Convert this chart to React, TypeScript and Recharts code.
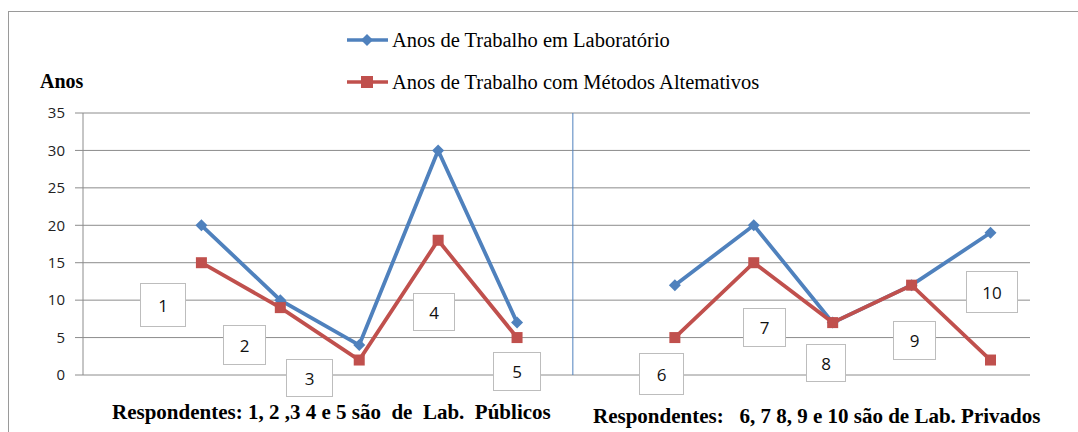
import { LineChart, Line, XAxis, YAxis, CartesianGrid, ReferenceLine } from "recharts";

const categories = ["", "1", "2", "3", "4", "5", "", "6", "7", "8", "9", "10"];
const anosLaboratorio = [null, 20, 10, 4, 30, 7, null, 12, 20, 7, 12, 19];
const anosAlternativos = [null, 15, 9, 2, 18, 5, null, 5, 15, 7, 12, 2];
const yTicks = [0, 5, 10, 15, 20, 25, 30, 35];
const respondentLabels = ["1", "2", "3", "4", "5", "6", "7", "8", "9", "10"];
const seriesNames = ["Anos de Trabalho em Laboratório", "Anos de Trabalho com Métodos Altemativos"];

const BLUE = "#4F81BD";
const RED = "#C0504D";
const GRID = "#8c8c8c";
const SERIF = "'Liberation Serif', 'Times New Roman', serif";

const data = categories.map((name, i) => ({
  name,
  lab: anosLaboratorio[i],
  alt: anosAlternativos[i],
}));

// hand-placed label boxes (left, top, width, height)
const boxes = [
  [140, 283, 46, 44],
  [223, 325, 43, 40],
  [286, 359, 47, 38],
  [413, 293, 42, 38],
  [493, 352, 48, 39],
  [639, 353, 45, 42],
  [743, 308, 43, 39],
  [806, 344, 40, 38],
  [893, 321, 43, 39],
  [966, 271, 52, 42],
];

const Diamond = (props: any) => {
  const { cx, cy } = props;
  if (cx == null || cy == null) return null;
  const r = 6;
  return (
    <polygon
      points={`${cx},${cy - r} ${cx + r},${cy} ${cx},${cy + r} ${cx - r},${cy}`}
      fill={BLUE}
    />
  );
};

const Square = (props: any) => {
  const { cx, cy } = props;
  if (cx == null || cy == null) return null;
  return <rect x={cx - 5.5} y={cy - 5.5} width={11} height={11} fill={RED} />;
};

const LegendBlock = () => (
  <div
    style={{
      position: "absolute",
      left: 347,
      top: 19,
      fontFamily: SERIF,
      fontSize: 20.5,
      color: "#000",
    }}
  >
    {seriesNames.map((label, i) => (
      <div key={i} style={{ display: "flex", alignItems: "center", height: 42 }}>
        <svg width={45} height={14}>
          <line x1={0} y1={7} x2={41} y2={7} stroke={i === 0 ? BLUE : RED} strokeWidth={3.5} />
          {i === 0 ? (
            <polygon points="20,1 26,7 20,13 14,7" fill={BLUE} />
          ) : (
            <rect x={14} y={1} width={12} height={12} fill={RED} />
          )}
        </svg>
        <span>{label}</span>
      </div>
    ))}
  </div>
);

export default function App() {
  return (
    <div style={{ position: "absolute", left: 0, top: 0, width: 1078, height: 432, background: "#fff", overflow: "hidden" }}>
      <div
        style={{
          position: "absolute",
          left: 8,
          top: 11,
          width: 1200,
          height: 600,
          borderTop: "1px solid #9a9a9a",
          borderLeft: "1px solid #9a9a9a",
        }}
      />
      <LineChart
        width={1078}
        height={432}
        data={data}
        margin={{ top: 113, right: 48, bottom: 57, left: 23 }}
        style={{ position: "absolute", left: 0, top: 0 }}
      >
        <CartesianGrid vertical={false} stroke={GRID} />
        <XAxis dataKey="name" padding={{ left: 39.5, right: 39.5 }} hide />
        <XAxis xAxisId="sep" type="number" domain={[0, 11]} allowDataOverflow hide />
        <YAxis
          width={60}
          domain={[0, 35]}
          ticks={yTicks}
          interval={0}
          tickSize={8}
          tickMargin={10}
          stroke={GRID}
          tick={{ fill: "#222", fontFamily: "'Open Sans', sans-serif", fontSize: 15 }}
        />
        <ReferenceLine xAxisId="sep" x={5.69} stroke={BLUE} strokeWidth={1} />
        <Line
          dataKey="lab"
          stroke={BLUE}
          strokeWidth={3.8}
          dot={<Diamond />}
          activeDot={false}
          isAnimationActive={false}
        />
        <Line
          dataKey="alt"
          stroke={RED}
          strokeWidth={3.8}
          dot={<Square />}
          activeDot={false}
          isAnimationActive={false}
        />
      </LineChart>
      <LegendBlock />
      <div
        style={{
          position: "absolute",
          left: 40,
          top: 70,
          fontFamily: SERIF,
          fontWeight: "bold",
          fontSize: 20,
          color: "#000",
        }}
      >
        Anos
      </div>
      {boxes.map(([l, t, w, h], i) => (
        <div
          key={i}
          style={{
            position: "absolute",
            left: l,
            top: t,
            width: w,
            height: h,
            boxSizing: "border-box",
            background: "#fff",
            border: "1px solid #bdbdbd",
            display: "flex",
            alignItems: "center",
            justifyContent: "center",
            fontFamily: "'Open Sans', sans-serif",
            fontSize: 17,
            color: "#111",
          }}
        >
          {respondentLabels[i]}
        </div>
      ))}
      <div
        style={{
          position: "absolute",
          left: 112,
          top: 400,
          whiteSpace: "pre",
          fontFamily: SERIF,
          fontWeight: "bold",
          fontSize: 21,
          color: "#000",
        }}
      >
        {"Respondentes: 1, 2 ,3 4 e 5 são  de  Lab.  Públicos"}
      </div>
      <div
        style={{
          position: "absolute",
          left: 593,
          top: 404,
          whiteSpace: "pre",
          fontFamily: SERIF,
          fontWeight: "bold",
          fontSize: 21,
          color: "#000",
        }}
      >
        {"Respondentes:   6, 7 8, 9 e 10 são de Lab. Privados"}
      </div>
    </div>
  );
}
